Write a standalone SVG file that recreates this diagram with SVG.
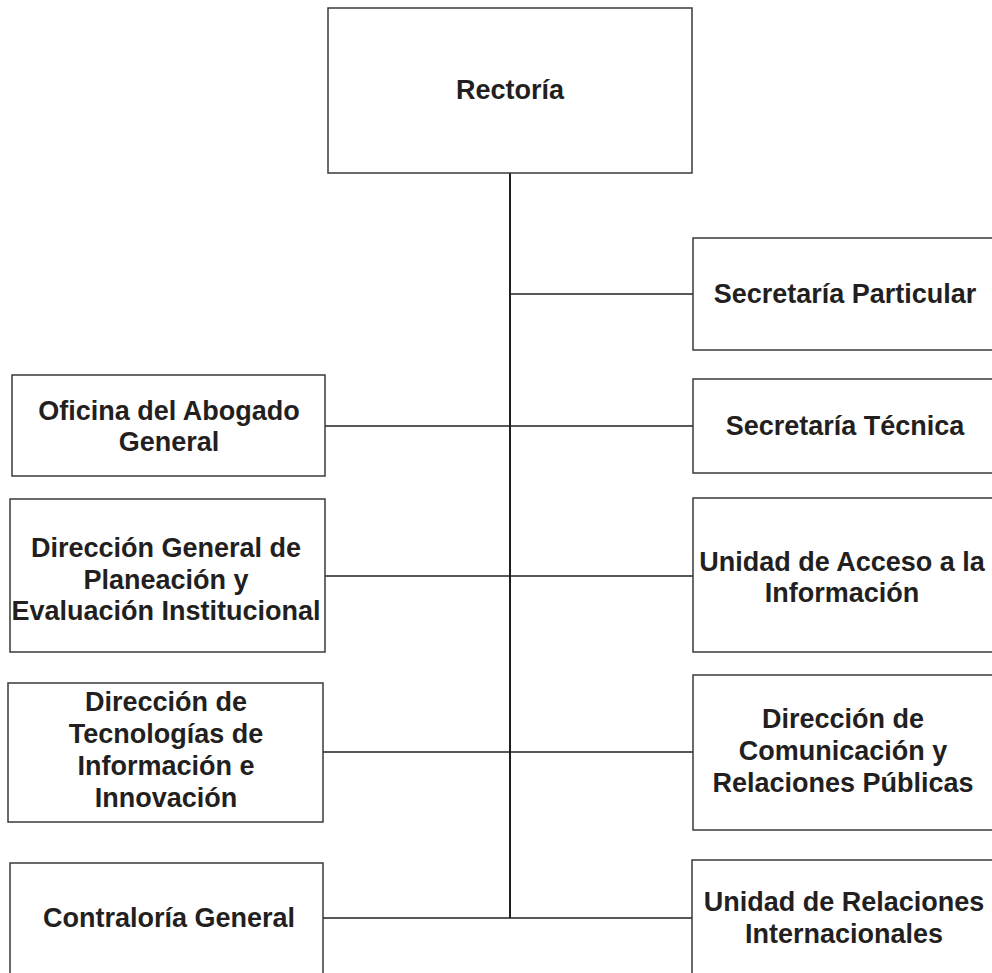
<svg xmlns="http://www.w3.org/2000/svg" width="992" height="973" viewBox="0 0 992 973">
  <style>
    .box { fill: #ffffff; stroke: #3a3a3a; stroke-width: 1.5; }
    .lbl { font-family: "Liberation Sans", Arial, sans-serif; font-weight: bold; font-size: 27px; fill: #231f20; text-anchor: middle; }
    .link { stroke: #231f20; stroke-width: 1.5; fill: none; }
    .trunk { stroke: #231f20; stroke-width: 2; fill: none; }
  </style>
  <rect width="992" height="973" fill="#ffffff"/>

  <!-- connectors -->
  <g id="connectors">
    <line class="trunk" x1="510" y1="173" x2="510" y2="918"/>
    <line class="link" x1="510" y1="294" x2="693" y2="294"/>
    <line class="link" x1="325" y1="426" x2="693" y2="426"/>
    <line class="link" x1="325" y1="576" x2="693" y2="576"/>
    <line class="link" x1="323" y1="752" x2="693" y2="752"/>
    <line class="link" x1="323" y1="918" x2="692" y2="918"/>
  </g>

  <!-- top node -->
  <g id="rectoria">
    <rect class="box" x="328" y="8" width="364" height="165"/>
    <text class="lbl" x="510" y="99">Rectoría</text>
  </g>

  <!-- right column -->
  <g id="secretaria-particular">
    <rect class="box" x="693" y="238" width="300" height="112"/>
    <text class="lbl" x="845" y="303">Secretaría Particular</text>
  </g>
  <g id="secretaria-tecnica">
    <rect class="box" x="693" y="379" width="300" height="94"/>
    <text class="lbl" x="845" y="435">Secretaría Técnica</text>
  </g>
  <g id="unidad-acceso">
    <rect class="box" x="693" y="498" width="300" height="154"/>
    <text class="lbl" x="842" y="571">Unidad de Acceso a la</text>
    <text class="lbl" x="842" y="602">Información</text>
  </g>
  <g id="direccion-comunicacion">
    <rect class="box" x="693" y="675" width="300" height="155"/>
    <text class="lbl" x="843" y="728">Dirección de</text>
    <text class="lbl" x="843" y="760">Comunicación y</text>
    <text class="lbl" x="843" y="792">Relaciones Públicas</text>
  </g>
  <g id="unidad-relaciones-internacionales">
    <rect class="box" x="692" y="860" width="301" height="130"/>
    <text class="lbl" x="844" y="911">Unidad de Relaciones</text>
    <text class="lbl" x="844" y="943">Internacionales</text>
  </g>

  <!-- left column -->
  <g id="oficina-abogado">
    <rect class="box" x="12" y="375" width="313" height="101"/>
    <text class="lbl" x="169" y="420">Oficina del Abogado</text>
    <text class="lbl" x="169" y="451">General</text>
  </g>
  <g id="direccion-planeacion">
    <rect class="box" x="10" y="499" width="315" height="153"/>
    <text class="lbl" x="166" y="557">Dirección General de</text>
    <text class="lbl" x="166" y="589">Planeación y</text>
    <text class="lbl" x="166" y="620">Evaluación Institucional</text>
  </g>
  <g id="direccion-tecnologias">
    <rect class="box" x="8" y="683" width="315" height="139"/>
    <text class="lbl" x="166" y="711">Dirección de</text>
    <text class="lbl" x="166" y="743">Tecnologías de</text>
    <text class="lbl" x="166" y="775">Información e</text>
    <text class="lbl" x="166" y="807">Innovación</text>
  </g>
  <g id="contraloria">
    <rect class="box" x="10" y="863" width="313" height="130"/>
    <text class="lbl" x="169" y="927">Contraloría General</text>
  </g>
</svg>
